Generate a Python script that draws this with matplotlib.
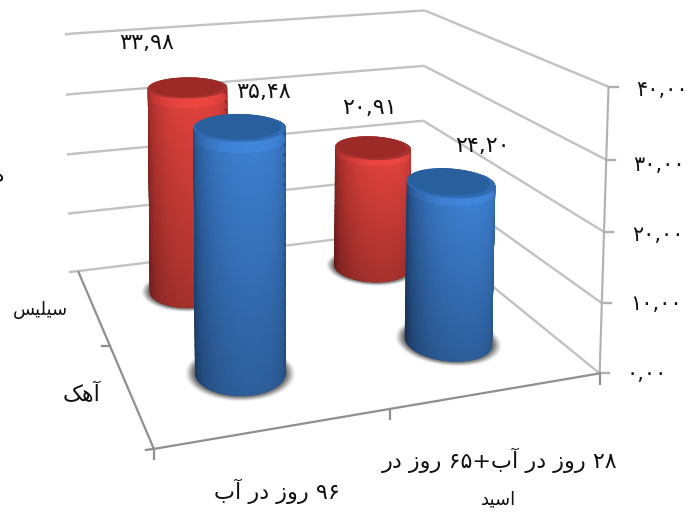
import numpy as np
import matplotlib
matplotlib.use("Agg")
import matplotlib.pyplot as plt
from matplotlib.collections import PolyCollection
from matplotlib.patches import Polygon

categories = ["۹۶ روز در آب", "۲۸ روز در آب+۶۵ روز در\nاسید"]
series_names = ["سیلیس", "آهک"]
silica_values = [33.98, 20.91]
lime_values = [35.48, 24.20]
value_ticks = [0, 10, 20, 30, 40]
silica_labels = ["۳۳,۹۸", "۲۰,۹۱"]
lime_labels = ["۳۵,۴۸", "۲۴,۲۰"]
tick_labels = ["۰,۰۰", "۱۰,۰۰", "۲۰,۰۰", "۳۰,۰۰", "۴۰,۰۰"]

# ---- minimal Persian shaping: matplotlib draws glyphs left to right, unjoined
FORMS = {"س": "\uFEB1\uFEB2\uFEB3\uFEB4", "ی": "\uFBFC\uFBFD\uFBFE\uFBFF",
         "ل": "\uFEDD\uFEDE\uFEDF\uFEE0", "ه": "\uFEE9\uFEEA\uFEEB\uFEEC",
         "ک": "\uFB8E\uFB8F\uFB90\uFB91", "ب": "\uFE8F\uFE90\uFE91\uFE92",
         "آ": "\uFE81\uFE82", "ا": "\uFE8D\uFE8E", "ر": "\uFEAD\uFEAE",
         "و": "\uFEED\uFEEE", "ز": "\uFEAF\uFEB0", "د": "\uFEA9\uFEAA"}
def shape(s):
    out = []
    for i, c in enumerate(s):
        if c not in FORMS:
            out.append(c); continue
        f = FORMS[c]
        prev_j = i > 0 and s[i-1] in FORMS and len(FORMS[s[i-1]]) == 4
        next_j = i + 1 < len(s) and s[i+1] in FORMS and len(f) == 4
        if len(f) == 2:
            out.append(f[1] if prev_j else f[0])
        else:
            out.append(f[3] if prev_j and next_j else f[1] if prev_j else f[2] if next_j else f[0])
    i, seq, tokens = 0, "".join(out), []
    while i < len(seq):
        j = i
        if "\u06F0" <= seq[i] <= "\u06F9":
            while j < len(seq) and "\u06F0" <= seq[j] <= "\u06F9":
                j += 1
            tokens.append(seq[i:j])
        else:
            j = i + 1
            tokens.append(seq[i])
        i = j
    return "".join(reversed(tokens))

# ---- frame calibration: a perspective camera fitted to the chart box corners
world = np.array([(0,0,0),(1,0,0),(0,1,0),(1,1,0),(0,1,40),(1,1,40),(1,0,40),(1,1,20),(1,0,20),(0,1,20)], float)
screen = np.array([(153,449),(599,372),(78,271),(423,230),(75,33),(423,10),(610,88),(423,120),(604,232),(76,154)], float)
A = []
for (x,y,z),(u,v) in zip(world, screen):
    A.append([x,y,z,1,0,0,0,0,-u*x,-u*y,-u*z,-u])
    A.append([0,0,0,0,x,y,z,1,-v*x,-v*y,-v*z,-v])
P = np.linalg.svd(np.array(A))[2][-1].reshape(3,4)
def proj(x, y, z):
    x, y, z = np.broadcast_arrays(np.asarray(x,float), np.asarray(y,float), np.asarray(z,float))
    h = P @ np.vstack([x.ravel(), y.ravel(), z.ravel(), np.ones(x.size)])
    return np.c_[h[0]/h[2], h[1]/h[2]]

def hull(pts):
    pts = sorted(map(tuple, pts))
    def half(seq):
        out = []
        for p in seq:
            while len(out) > 1 and ((out[-1][0]-out[-2][0])*(p[1]-out[-2][1]) -
                                    (out[-1][1]-out[-2][1])*(p[0]-out[-2][0])) <= 0:
                out.pop()
            out.append(p)
        return out[:-1]
    return np.array(half(pts) + half(pts[::-1]))

fig = plt.figure(figsize=(6.91, 5.13), dpi=100)
ax = fig.add_axes([0, 0, 1, 1])
ax.set_xlim(0, 691); ax.set_ylim(513, 0); ax.axis("off")
GRID = "#c2c2c2"; AXC = "#8f8f8f"

def seg(a, b, c=GRID, lw=1.7, z=1):
    pts = proj(*zip(a, b))
    ax.plot(pts[:,0], pts[:,1], color=c, lw=lw, zorder=z, solid_capstyle="butt")

for t in value_ticks:
    seg((0,1,t), (1,1,t))
    seg((1,1,t), (1,0,t))
    bl = proj(0,1,t)[0]
    ax.plot([bl[0]-8, bl[0]], [bl[1]+0.8, bl[1]], color=GRID, lw=1.7, zorder=1)
    fr = proj(1,0,t)[0]
    ax.plot([fr[0], fr[0]+9], [fr[1], fr[1]], color="#b0b0b0", lw=1.7, zorder=1)
seg((1,0,0), (1,0,40), "#b0b0b0", 1.5)
seg((0,0,0), (1,0,0), AXC, 1.6, 2)
seg((0,0,0), (0,1,0), AXC, 1.6, 2)
fl = proj(0,0,0)[0]; fr0 = proj(1,0,0)[0]; mid = proj(0.5,0,0)[0]; dm = proj(0,0.5,0)[0]
ax.plot([fl[0]-8, fl[0]], [fl[1]+1, fl[1]], color=AXC, lw=1.6)
ax.plot([fl[0], fl[0]], [fl[1], fl[1]+10], color=AXC, lw=1.6)
ax.plot([fr0[0], fr0[0]], [fr0[1], fr0[1]+11], color=AXC, lw=1.6)
ax.plot([mid[0], mid[0]], [mid[1], mid[1]+10], color=AXC, lw=1.6)
ax.plot([dm[0]-8, dm[0]], [dm[1], dm[1]], color=AXC, lw=1.6)

RX, RY = 0.099, 0.115
HEIGHT_SCALE = 0.97
TH = np.linspace(0, 2*np.pi, 121)

def cylinder(cu, cv, value, light, dark, cap, rim, z):
    h = value * HEIGHT_SCALE
    def ring(zv, s=1.0):
        return proj(cu + s*RX*np.cos(TH), cv + s*RY*np.sin(TH), np.full_like(TH, zv))
    for s, a in zip(np.linspace(1.22, 1.02, 10), np.linspace(0.04, 0.2, 10)):
        pts = proj(cu + s*RX*np.cos(TH), cv + s*RY*np.sin(TH), np.zeros_like(TH))
        ax.add_patch(Polygon(pts, fc=(0.2,0.2,0.2,a), ec="none", zorder=z))
    outline = Polygon(hull(np.vstack([ring(0), ring(h)])), fc=np.array(dark)*0.9, ec="none", zorder=z+0.05)
    ax.add_patch(outline)
    levels = np.linspace(0, h, 26)
    polys, cols = [], []
    light, dark = np.array(light), np.array(dark)
    th = np.linspace(np.pi - 0.25, 2*np.pi + 0.25, 71)
    span = th[-1] - th[0]
    for k in range(len(levels)-1):
        fade = 0.74 + 0.26 * (levels[k] / h)
        if k == len(levels) - 2:
            fade *= 1.06
        for i in range(len(th)-1):
            tm = (th[i]+th[i+1]) / 2
            t = abs((tm - th[0]) / span - 0.5) * 2
            mix = t**2.2
            col = (light*(1-mix) + dark*mix) * fade
            a = proj(cu+RX*np.cos(th[i]), cv+RY*np.sin(th[i]), levels[k])[0]
            b = proj(cu+RX*np.cos(th[i+1]), cv+RY*np.sin(th[i+1]), levels[k])[0]
            c = proj(cu+RX*np.cos(th[i+1]), cv+RY*np.sin(th[i+1]), levels[k+1])[0]
            d = proj(cu+RX*np.cos(th[i]), cv+RY*np.sin(th[i]), levels[k+1])[0]
            polys.append([a,b,c,d]); cols.append(np.clip(col,0,1))
    pc = PolyCollection(polys, facecolors=cols, edgecolors=cols, linewidths=0.6,
                        antialiaseds=False, zorder=z+0.1)
    ax.add_collection(pc)
    pc.set_clip_path(outline)
    ax.add_patch(Polygon(ring(h), fc=rim, ec="none", zorder=z+0.2))
    ax.add_patch(Polygon(proj(cu+0.93*RX*np.cos(TH), cv+0.93*RY*np.sin(TH)+0.012, np.full_like(TH,h)),
                         fc=cap, ec="none", zorder=z+0.3))

RED = dict(light=(0.88,0.26,0.24), dark=(0.48,0.12,0.11), cap="#9c2b27", rim="#a83230")
BLUE = dict(light=(0.24,0.50,0.82), dark=(0.11,0.24,0.42), cap="#2a5f9e", rim="#2f6cb3")
centers_u = [0.25, 0.755]
cv_back, cv_front = 0.77, 0.27
for i in range(2):
    cylinder(centers_u[i], cv_back, silica_values[i], z=3+2*i, **RED)
    cylinder(centers_u[i], cv_front, lime_values[i], z=4+2*i, **BLUE)

txt = dict(family="DejaVu Sans", color="#111111", fontsize=16, ha="center", va="center", zorder=20)
for s, p in zip(silica_labels + lime_labels, [(147,43),(370,108),(264,92),(482,146)]):
    ax.text(p[0], p[1], s, **txt)
for s, y, x in zip(tick_labels, [372,302,233,163,88], [627,630,632,633,636]):
    ax.text(x, y+2, s, **{**txt, "ha":"left", "fontsize":15})
ax.text(40, 310, shape(series_names[0]), **{**txt, "fontsize":13})
ax.text(82, 394, shape(series_names[1]), **txt)
ax.text(277, 491, shape(categories[0]), **txt)
line1, line2 = categories[1].split("\n")
ax.text(500, 460, shape(line1), **txt)
ax.text(498, 499, shape(line2), **{**txt, "fontsize":13})
ax.text(-2, 176, shape("ه"), **txt)
fig.savefig("out.png", dpi=100)
